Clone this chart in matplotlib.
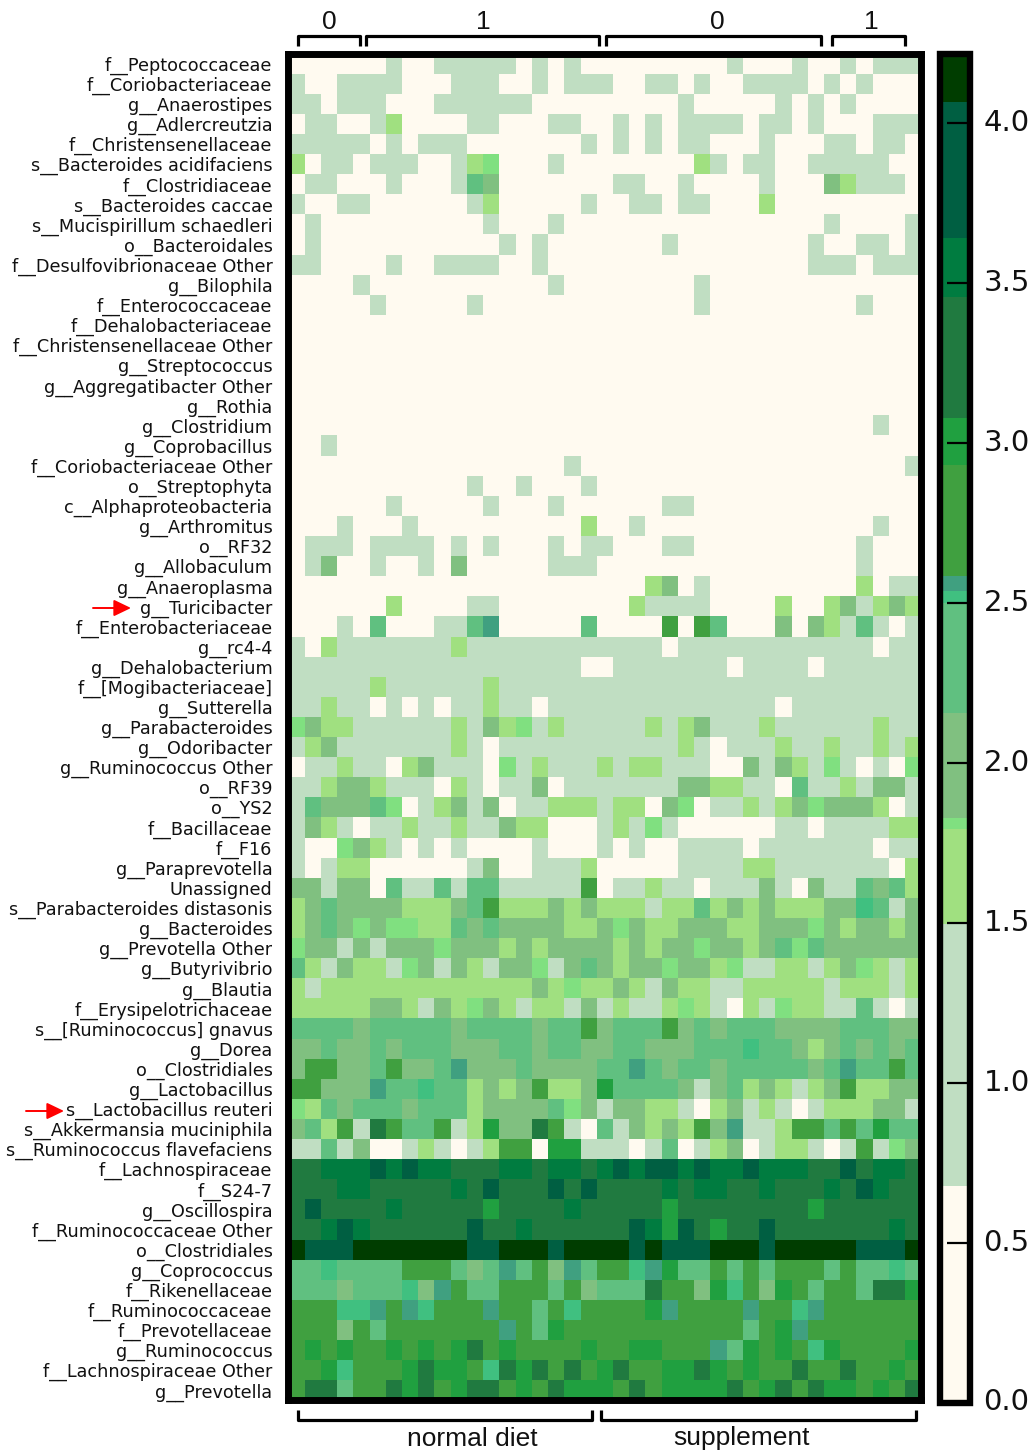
#!/usr/bin/env python3

import numpy as np
import matplotlib
matplotlib.use('Agg')
import matplotlib.pyplot as plt
from matplotlib.colors import ListedColormap, BoundaryNorm
from matplotlib.lines import Line2D
from matplotlib.transforms import ScaledTranslation

W, H = 1036, 1450

taxa = [
    "f__Peptococcaceae", "f__Coriobacteriaceae", "g__Anaerostipes", "g__Adlercreutzia",
    "f__Christensenellaceae", "s__Bacteroides acidifaciens", "f__Clostridiaceae",
    "s__Bacteroides caccae", "s__Mucispirillum schaedleri", "o__Bacteroidales",
    "f__Desulfovibrionaceae Other", "g__Bilophila", "f__Enterococcaceae",
    "f__Dehalobacteriaceae", "f__Christensenellaceae Other", "g__Streptococcus",
    "g__Aggregatibacter Other", "g__Rothia", "g__Clostridium", "g__Coprobacillus",
    "f__Coriobacteriaceae Other", "o__Streptophyta", "c__Alphaproteobacteria",
    "g__Arthromitus", "o__RF32", "g__Allobaculum", "g__Anaeroplasma", "g__Turicibacter",
    "f__Enterobacteriaceae", "g__rc4-4", "g__Dehalobacterium", "f__[Mogibacteriaceae]",
    "g__Sutterella", "g__Parabacteroides", "g__Odoribacter", "g__Ruminococcus Other",
    "o__RF39", "o__YS2", "f__Bacillaceae", "f__F16", "g__Paraprevotella", "Unassigned",
    "s__Parabacteroides distasonis", "g__Bacteroides", "g__Prevotella Other",
    "g__Butyrivibrio", "g__Blautia", "f__Erysipelotrichaceae", "s__[Ruminococcus] gnavus",
    "g__Dorea", "o__Clostridiales", "g__Lactobacillus", "s__Lactobacillus reuteri",
    "s__Akkermansia muciniphila", "s__Ruminococcus flavefaciens", "f__Lachnospiraceae",
    "f__S24-7", "g__Oscillospira", "f__Ruminococcaceae Other", "o__Clostridiales",
    "g__Coprococcus", "f__Rikenellaceae", "f__Ruminococcaceae", "f__Prevotellaceae",
    "g__Ruminococcus", "f__Lachnospiraceae Other", "g__Prevotella",
]

# one letter per cell, see level_values
rows = [
    "aaaaaabaab bbbbababaa aaaaaaabaa abaababbb",
    "baabbbbaaa bbbaababbb aabbabaabb bbababaaa",
    "bbabbbaaab bbbbbaaaaa aaaabaaaaa bababaaaa",
    "abbaabcaaa abbaaabbaa bababbbbab babaaabbb",
    "bbbbbababb baaaaaaaba bababbaaab aaabbabba",
    "cabbabbbaa bcdaaabaaa aaaaacbabb aabbbbbaa",
    "abbaaabaaa bfeaaaaaaa bbaabaaaab aaaecbbba",
    "baabbaaaaa abcaaaaaba abbabbaaac aaaaaaaaa",
    "abaaaaaaaa aabaaabaaa aaaaaaaaaa aaabaaaab",
    "abaaaaaaaa aaababaaaa aaabaaaaaa aabaabbab",
    "bbaaaabaab bbbaabaaaa aaaaaaaaaa aabbbabbb",
    "aaaabaaaaa aaaaaabaaa aaaaabaaaa aaaaaaaaa",
    "aaaaabaaaa abaaaaaaaa aaaaabaaaa aaaaabaaa",
    "aaaaaaaaaa aaaaaaaaaa aaaaaaaaaa aaaaaaaaa",
    "aaaaaaaaaa aaaaaaaaaa aaaaaaaaaa aaaaaaaaa",
    "aaaaaaaaaa aaaaaaaaaa aaaaaaaaaa aaaaaaaaa",
    "aaaaaaaaaa aaaaaaaaaa aaaaaaaaaa aaaaaaaaa",
    "aaaaaaaaaa aaaaaaaaaa aaaaaaaaaa aaaaaaaaa",
    "aaaaaaaaaa aaaaaaaaaa aaaaaaaaaa aaaaaabaa",
    "aabaaaaaaa aaaaaaaaaa aaaaaaaaaa aaaaaaaaa",
    "aaaaaaaaaa aaaaaaabaa aaaaaaaaaa aaaaaaaab",
    "aaaaaaaaaa abaabaaaba aaaaaaaaaa aaaaaaaaa",
    "aaaaaabaaa aabaaabaaa aaabbaaaaa aaaaaaaaa",
    "aaabaaabaa aaaaaaaaca abaaaaaaaa aaaaaabaa",
    "abbbabbbba babaaababb aaabbaaaaa aaaaabaaa",
    "abeaabaaba eaaaaabbba aaaaaaaaaa aaaaabaaa",
    "aaaaaaaaaa aaaaaaaaaa aaceabaaaa aaaaacabb",
    "aaaaaacaaa abbaaaaaaa acbbbbaaaa caacebcec",
    "aaabafaaab bfhaaaaafa aaaiaifaaa eaecbfbab",
    "bacbbbbbbb cbbbbbbbbb bbbabbbbbb bbbbbbabb",
    "bbbbbbbbbb bbbbbbbbaa bbbbbbbabb bbabbbbbb",
    "bbbbbcbbbb bbcbbbbbbb bbbbbbbbbb bbbbbbbbb",
    "bbcbbababa bbcbbabbbb bbbbbbbbbb abbbbbbbb",
    "deccbbbbbb cbecdbcbbb bbcbcebbbc bbbbbbcbb",
    "bcebbbbbbb cbabbbbbbb bbbbcbabbb cbbcbbcbc",
    "abbcbbaceb bbadbcbbbc bccbbbaaeb ecbdbabad",
    "bbceecbbba cbabbeabbb bbbbeeccbb afbbcbeeb",
    "bfeeefdabc ebeabbcccb ccaedabbcb cedeeecab",
    "becbabbcbb cbbeccaaab cbdbaaaaaa bbabbbbcc",
    "baadecbaba baaaabaaab abaabbbbab bbbbbbabb",
    "babccaaaaa abeaabbbca aaaabbbbcc bbbbbbbac",
    "eebeeafbbf bffbbbbbia bbcbbabbbe baebbfefc",
    "cefeeeeccc eficccecec ccbccfcece ccceegfbe",
    "cefededdcc fefeeeecce decceeecce eedeceece",
    "deebebeeed eeececeeee ceceedeece fdfeeeeee",
    "fcbeccbdeb ecbeedbefe ceedeecdbb ccbcedcbc",
    "cbcccccccc cccccecdcc ecbeccbbcc cccbcccbc",
    "ccccceecbe cdecbccbeb cbbcdcbacb dccbbfbab",
    "ffffefffff effffeffie fffiefefff eeeefffee",
    "eefeefefff eeeffeffee ffeeefffgf fecefefef",
    "eiieefieef heeefeeeef fhfeffefff ffefhffif",
    "iieeehffgf fceceiccej ffffebefce cbceiccee",
    "dcfefffeff fceeeefdeb eeccbacebc babccceeb",
    "efcibkiffi bcjeekibaf bececiehbb ciififjff",
    "bbfbeaabcb abciiajjbb babfabceab ccbabibde",
    "kklllmlmll kkkllkllkl mlmmlmllml llkkmkllk",
    "kkkllkkkkk lkmkkkmkmk kkklkllkkl kkklkmlkk",
    "kmkkkklkkk kkjkkkklkk kkkjkkkkkk kkjkkkkkk",
    "kklmlkkkkk kmkklkkkkk kmljmkjkkm kkkkkkklk",
    "nmmmnnnnnn nmmnnnmnnn nmnmmmnnnm nnnnnmmmn",
    "ffgffffiii fefhfiehfi ighjffifif iiififfgf",
    "fffefffgeh iffiiifief ffkiiejgie jifiifkkj",
    "iiigghihgi iihiifigii iijhiiiihi ighiiiiii",
    "iiieifiiii iiihifjiii iiiiiiiifi jhiiiiiii",
    "ijijiijiji jkijiiiiji ijjiiihfji jigjiiiij",
    "iijgiiijkj jigkjkikij kiijjkjiji ikiikiiji",
    "ikkfiikjki jkkijikjjj ikijjjjkij kikjjijik",
]

level_values = dict(zip("abcdefghijklmn",
                        [0.3, 1.0, 1.6, 1.81, 2.0, 2.3, 2.52, 2.56, 2.75, 3.0, 3.25, 3.55, 3.85, 4.12]))

bounds = [0, 0.676, 1.497, 1.794, 1.828, 2.157, 2.5, 2.537, 2.585, 2.93, 3.078, 3.457, 3.64, 4.067, 4.216]
colors = ["#fffaf0", "#c0dec2", "#a0e080", "#80e080", "#80c080", "#60c080", "#40c080",
          "#40a080", "#40a040", "#20a040", "#207a40", "#007c40", "#005f42", "#003d00"]
cbar_ticks = [0.0, 0.5, 1.0, 1.5, 2.0, 2.5, 3.0, 3.5, 4.0]

top_groups = [("0", 298, 360, 329), ("1", 366, 599, 483), ("0", 606, 821, 717), ("1", 832, 905, 871)]
bottom_groups = [("normal diet", 298, 592, 472), ("supplement", 601, 916, 742)]
arrow_rows = [(93, 131, 608), (26, 64, 1111)]

data = np.array([[level_values[c] for c in r.replace(" ", "")] for r in rows])


def px_axes(left, top, right, bottom):
    return [left / W, 1 - bottom / H, (right - left) / W, (bottom - top) / H]


def fx(x):
    return x / W


def fy(y):
    return 1 - y / H


fig = plt.figure(figsize=(W / 100, H / 100), dpi=100)
ax = fig.add_axes(px_axes(288.4, 53.6, 921.4, 1400.3))
cmap = ListedColormap(colors)
norm = BoundaryNorm(bounds, cmap.N)
mesh = ax.pcolormesh(np.arange(data.shape[1] + 1), np.arange(data.shape[0] + 1), data,
                     cmap=cmap, norm=norm, linewidth=0, rasterized=True)
ax.invert_yaxis()
ax.set_xticks([])
ax.set_yticks(np.arange(len(taxa)) + 0.5)
ax.set_yticklabels(taxa, fontsize=12.7, color='#111111')
ax.tick_params(axis='y', length=0, pad=11.5)
for s in ax.spines.values():
    s.set_linewidth(5.0)

# colorbar
cax = fig.add_axes(px_axes(939.5, 54, 970.3, 1402.5))
cb = fig.colorbar(mesh, cax=cax, spacing='proportional', ticks=cbar_ticks, drawedges=False)
cb.ax.set_yticklabels(["%.1f" % t for t in cbar_ticks], fontsize=21, color='#111111')
cb.ax.tick_params(axis='y', which='major', direction='in', length=16.5, width=1.6, pad=9.5, color='black')
cb.ax.minorticks_off()
cb.outline.set_linewidth(4.6)
up3 = ScaledTranslation(0, 2.2 / 72, fig.dpi_scale_trans)
for lab in cb.ax.get_yticklabels():
    lab.set_transform(lab.get_transform() + up3)

# brackets and group names
for name, x0, x1, xc in top_groups:
    fig.add_artist(Line2D([fx(x0), fx(x0), fx(x1), fx(x1)], [fy(46), fy(36), fy(36), fy(46)],
                          color='black', lw=2.3, solid_joinstyle='round', solid_capstyle='butt'))
    fig.text(fx(xc), fy(22), name, ha='center', va='center', fontsize=19, color='#111111',
             family='Liberation Sans')
for name, x0, x1, xc in bottom_groups:
    fig.add_artist(Line2D([fx(x0), fx(x0), fx(x1), fx(x1)], [fy(1410), fy(1420), fy(1420), fy(1410)],
                          color='black', lw=2.3, solid_joinstyle='round', solid_capstyle='butt'))
    fig.text(fx(xc), fy(1438.5), name, ha='center', va='center', fontsize=19, color='#111111',
             family='Liberation Sans')

# red arrows next to the two taxa
for x0, x1, y in arrow_rows:
    ax.annotate("", xy=(fx(x1), fy(y)), xytext=(fx(x0), fy(y)), xycoords='figure fraction',
                textcoords='figure fraction', annotation_clip=False,
                arrowprops=dict(arrowstyle='-|>,head_length=0.52,head_width=0.25', color='red',
                                lw=1.4, shrinkA=0, shrinkB=0, mutation_scale=20))

fig.savefig('out.png', dpi=100)
